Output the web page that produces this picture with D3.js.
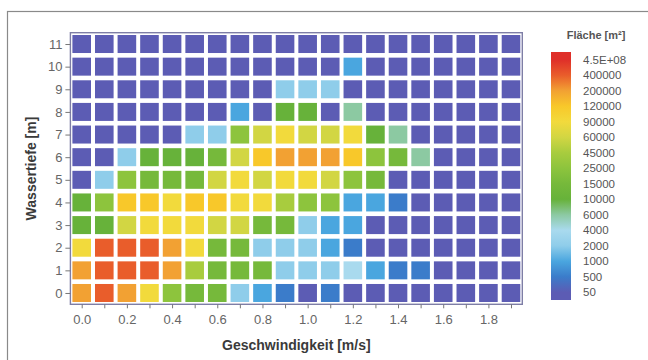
<!DOCTYPE html>
<html>
<head>
<meta charset="utf-8">
<script src="https://cdn.jsdelivr.net/npm/d3@7"></script>
<style>
  html, body { margin: 0; padding: 0; background: #fff; }
  svg { display: block; font-family: "Liberation Sans", Arial, sans-serif; }
</style>
</head>
<body>
<svg id="chart" width="648" height="360"></svg>
<script>
// Flow velocity classes (m/s) and water depth classes (m)
const speeds = [0.0, 0.1, 0.2, 0.3, 0.4, 0.5, 0.6, 0.7, 0.8, 0.9,
                1.0, 1.1, 1.2, 1.3, 1.4, 1.5, 1.6, 1.7, 1.8, 1.9];
const depths = [0, 1, 2, 3, 4, 5, 6, 7, 8, 9, 10, 11];
const speedTickLabels = ["0.0", "0.2", "0.4", "0.6", "0.8", "1.0", "1.2", "1.4", "1.6", "1.8"];

// Area (m²) per depth class; each row lists the velocity classes 0.0 … 1.9
const areaDepth0  = [200000, 400000, 200000, 90000, 25000, 15000, 15000, 2000, 1000, 500, 50, 500, 50, 50, 50, 50, 50, 50, 50, 50];
const areaDepth1  = [200000, 400000, 400000, 400000, 200000, 45000, 15000, 15000, 15000, 2000, 2000, 2000, 4000, 1000, 500, 500, 50, 50, 50, 50];
const areaDepth2  = [90000, 400000, 400000, 400000, 200000, 90000, 15000, 15000, 2000, 2000, 2000, 1000, 500, 50, 50, 50, 50, 50, 50, 50];
const areaDepth3  = [10000, 10000, 60000, 90000, 90000, 90000, 60000, 60000, 15000, 15000, 2000, 1000, 1000, 50, 50, 50, 50, 50, 50, 50];
const areaDepth4  = [10000, 25000, 120000, 120000, 90000, 120000, 120000, 90000, 90000, 45000, 25000, 25000, 1000, 1000, 500, 50, 50, 50, 50, 50];
const areaDepth5  = [50, 2000, 25000, 15000, 15000, 15000, 60000, 90000, 60000, 90000, 90000, 60000, 25000, 15000, 50, 50, 50, 50, 50, 50];
const areaDepth6  = [50, 50, 2000, 10000, 10000, 10000, 15000, 60000, 120000, 200000, 200000, 200000, 120000, 25000, 15000, 6000, 50, 50, 50, 50];
const areaDepth7  = [50, 50, 50, 50, 50, 2000, 2000, 25000, 60000, 90000, 60000, 60000, 90000, 10000, 6000, 50, 50, 50, 50, 50];
const areaDepth8  = [50, 50, 50, 50, 50, 50, 50, 1000, 50, 10000, 10000, 50, 6000, 50, 50, 50, 50, 50, 50, 50];
const areaDepth9  = [50, 50, 50, 50, 50, 50, 50, 50, 50, 2000, 2000, 2000, 50, 50, 50, 50, 50, 50, 50, 50];
const areaDepth10 = [50, 50, 50, 50, 50, 50, 50, 50, 50, 50, 50, 50, 1000, 50, 50, 50, 50, 50, 50, 50];
const areaDepth11 = [50, 50, 50, 50, 50, 50, 50, 50, 50, 50, 50, 50, 50, 50, 50, 50, 50, 50, 50, 50];
const areaRows = [areaDepth0, areaDepth1, areaDepth2, areaDepth3, areaDepth4, areaDepth5,
                  areaDepth6, areaDepth7, areaDepth8, areaDepth9, areaDepth10, areaDepth11];

// Colour classes for the area legend (lowest to highest)
const levels = [50, 500, 1000, 2000, 4000, 6000, 10000, 15000, 25000, 45000,
                60000, 90000, 120000, 200000, 400000, 4.5e8];
const levelLabels = ["50", "500", "1000", "2000", "4000", "6000", "10000", "15000", "25000", "45000",
                     "60000", "90000", "120000", "200000", "400000", "4.5E+08"];
const levelColors = ["#5c5cb4", "#3b7cca", "#4aa6df", "#8fcdea", "#a9daee", "#8cc9a2",
                     "#67b23a", "#76b93b", "#8dc43d", "#a8cc3e", "#d2d643", "#f2da3c",
                     "#f8c82a", "#f2a133", "#e95d2b", "#df2f29"];

const svg = d3.select("#chart");

// Outer frame
svg.append("rect")
  .attr("x", 7.5).attr("y", 11.5)
  .attr("width", 660).attr("height", 360)
  .attr("fill", "none").attr("stroke", "#8a8a8a").attr("stroke-width", 1.2);

const plot = { left: 70.4, right: 522.3, top: 32.7, bottom: 304.3 };

const x = d3.scaleLinear().domain([-0.05, 1.95]).range([plot.left, plot.right]);
const y = d3.scaleLinear().domain([-0.5, 11.5]).range([plot.bottom, plot.top]);
const color = d3.scaleThreshold().domain(levels.slice(1)).range(levelColors);

const cellW = 18.6, cellH = 18.0;

// Heatmap cells
const cells = [];
areaRows.forEach((row, di) => {
  row.forEach((v, si) => cells.push({ speed: speeds[si], depth: depths[di], area: v }));
});

svg.append("g")
  .selectAll("rect")
  .data(cells)
  .join("rect")
  .attr("x", d => x(d.speed) - cellW / 2)
  .attr("y", d => y(d.depth) - cellH / 2)
  .attr("width", cellW)
  .attr("height", cellH)
  .attr("fill", d => color(d.area));

// Plot frame
svg.append("rect")
  .attr("x", plot.left).attr("y", plot.top)
  .attr("width", plot.right - plot.left).attr("height", plot.bottom - plot.top)
  .attr("fill", "none").attr("stroke", "#7e7ea6").attr("stroke-width", 1.4);

// X axis
const xAxis = d3.axisBottom(x)
  .tickValues(speeds)
  .tickSize(4)
  .tickPadding(6)
  .tickFormat(d => {
    const s = d.toFixed(1);
    return speedTickLabels.includes(s) ? s : "";
  });
const gx = svg.append("g").attr("transform", `translate(0,${plot.bottom})`).call(xAxis);
gx.select(".domain").remove();
gx.selectAll("line").attr("stroke", "#777");
gx.selectAll("text").attr("fill", "#666").attr("font-size", 13);

// Y axis
const yAxis = d3.axisLeft(y).tickValues(depths).tickSize(5).tickPadding(3).tickFormat(d3.format("d"));
const gy = svg.append("g").attr("transform", `translate(${plot.left},0)`).call(yAxis);
gy.select(".domain").remove();
gy.selectAll("line").attr("stroke", "#777");
gy.selectAll("text").attr("fill", "#666").attr("font-size", 13);

// Axis titles
svg.append("text")
  .attr("x", (plot.left + plot.right) / 2).attr("y", 350)
  .attr("text-anchor", "middle")
  .attr("font-size", 14).attr("font-weight", "bold").attr("fill", "#3a3a3a")
  .text("Geschwindigkeit [m/s]");

svg.append("text")
  .attr("transform", `translate(36,${(plot.top + plot.bottom) / 2}) rotate(-90)`)
  .attr("text-anchor", "middle")
  .attr("font-size", 14).attr("font-weight", "bold").attr("fill", "#3a3a3a")
  .text("Wassertiefe [m]");

// Legend
const legend = { x: 551, width: 20, top: 52, bottom: 300 };
const legendY = d3.scaleBand()
  .domain(d3.range(levels.length).reverse())
  .range([legend.top, legend.bottom]);

const grad = svg.append("defs").append("linearGradient")
  .attr("id", "legendGrad")
  .attr("x1", 0).attr("y1", 1).attr("x2", 0).attr("y2", 0);
levels.forEach((lv, i) => {
  grad.append("stop")
    .attr("offset", (legend.bottom - (legendY(i) + legendY.bandwidth() / 2)) / (legend.bottom - legend.top))
    .attr("stop-color", levelColors[i]);
});

svg.append("rect")
  .attr("x", legend.x).attr("y", legend.top)
  .attr("width", legend.width).attr("height", legend.bottom - legend.top)
  .attr("fill", "url(#legendGrad)");

svg.append("g")
  .selectAll("text")
  .data(levelLabels)
  .join("text")
  .attr("x", 583)
  .attr("y", (d, i) => legendY(i) + legendY.bandwidth() / 2)
  .attr("dy", "0.35em")
  .attr("font-size", 11.5)
  .attr("fill", "#555")
  .text(d => d);

svg.append("text")
  .attr("x", 596).attr("y", 39)
  .attr("text-anchor", "middle")
  .attr("font-size", 11).attr("font-weight", "bold").attr("fill", "#555")
  .text("Fläche [m²]");
</script>
</body>
</html>
